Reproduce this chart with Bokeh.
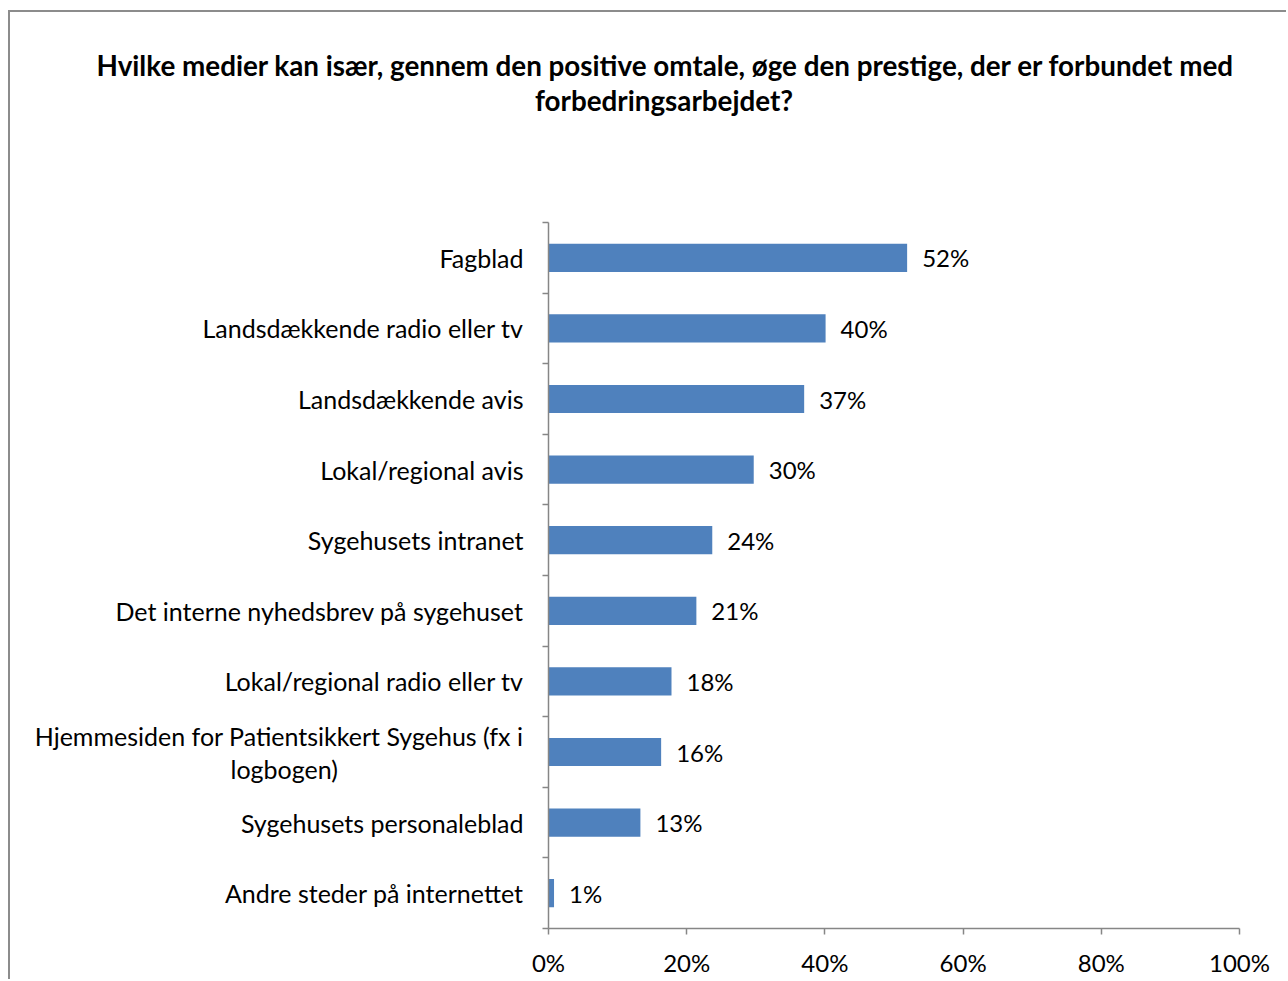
from bokeh.plotting import figure
from bokeh.models import (Range1d, FixedTicker, PrintfTickFormatter, ColumnDataSource,
                          LabelSet, Title)
from bokeh.core.properties import value
from bokeh.embed import file_html
from bokeh.resources import INLINE

NBSP = "\u00a0"
categories = [
    "Fagblad",
    "Landsdækkende radio eller tv",
    "Landsdækkende avis",
    "Lokal/regional avis",
    "Sygehusets intranet",
    "Det interne nyhedsbrev på sygehuset",
    "Lokal/regional radio eller tv",
    "Hjemmesiden for Patientsikkert Sygehus (fx i\nlogbogen)" + NBSP * 29,
    "Sygehusets personaleblad",
    "Andre steder på internettet",
]
values = [51.9, 40.1, 37.0, 29.7, 23.7, 21.4, 17.8, 16.3, 13.3, 0.8]
x_ticks = [0, 20, 40, 60, 80, 100]
title_lines = [
    "Hvilke medier kan især, gennem den positive omtale, øge den prestige, der er forbundet med",
    "forbedringsarbejdet?",
]

FONT = "Lato"
GRAY = "#868686"
FS = "24px"
FS_CAT = "25px"

n = len(categories)
ys = [n - 0.5 - i for i in range(n)]
val_labels = [f"{round(v):d}%" for v in values]

W, H = 1278, 969
p = figure(width=W, height=H, output_backend="svg", toolbar_location=None,
           x_range=Range1d(0, 100), y_range=Range1d(0, n),
           min_border_left=538, min_border_right=49, min_border_top=210, min_border_bottom=53)
p.outline_line_color = None
p.xgrid.visible = False
p.ygrid.visible = False
p.background_fill_color = "white"
p.border_fill_color = "white"
p.styles = {"border-top": "2px solid #8c8c8c", "border-left": "2px solid #8c8c8c",
            "margin-top": "10px", "margin-left": "8px"}

src = ColumnDataSource(dict(y=ys, v=values, lab=val_labels))
p.hbar(y="y", right="v", left=0, height=0.4, source=src, fill_color="#4F81BD", line_color=None)

p.add_layout(LabelSet(x="v", y="y", text="lab", source=src, x_offset=15,
                      text_baseline="middle", text_align="left",
                      text_font=value(FONT), text_font_size=FS, text_color="black"))

# x axis
xa = p.xaxis[0]
xa.ticker = FixedTicker(ticks=x_ticks)
xa.formatter = PrintfTickFormatter(format="%d%%")
xa.axis_line_color = GRAY
xa.axis_line_width = 1.5
xa.major_tick_line_color = GRAY
xa.major_tick_line_width = 1.5
xa.major_tick_in = 0
xa.major_tick_out = 6
xa.minor_tick_line_color = None
xa.major_label_text_font = FONT
xa.major_label_text_font_size = FS
xa.major_label_text_color = "black"
xa.major_label_standoff = 13

# y axis: labels at centres, minor ticks at category boundaries
ya = p.yaxis[0]
ya.ticker = FixedTicker(ticks=ys, minor_ticks=list(range(n + 1)))
ya.major_label_overrides = {pos: cat for pos, cat in zip(ys, categories)}
ya.axis_line_color = GRAY
ya.axis_line_width = 1.5
ya.major_tick_line_color = None
ya.major_tick_in = 0
ya.major_tick_out = 0
ya.minor_tick_line_color = GRAY
ya.minor_tick_line_width = 1.5
ya.minor_tick_in = 0
ya.minor_tick_out = 6
ya.major_label_text_font = FONT
ya.major_label_text_font_size = FS_CAT
ya.major_label_text_color = "black"
ya.major_label_text_line_height = 1.1
ya.major_label_standoff = 19

# title: spacer nearest the frame, then the two lines stacked upward
p.title.visible = False
p.add_layout(Title(text=" ", text_font_size="10px", standoff=92), "above")
for t, off in zip(reversed(title_lines), [-13.5, -452]):
    p.add_layout(Title(text=t, align="left", offset=off, vertical_align="middle",
                       standoff=0, text_font=FONT, text_font_size="27.8px",
                       text_font_style="bold", text_color="black"), "above")

open("out.html", "w").write(file_html(p, INLINE))
